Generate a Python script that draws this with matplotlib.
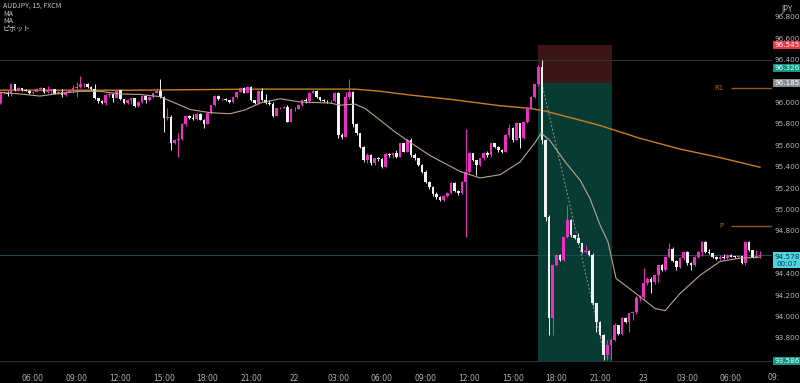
import matplotlib
matplotlib.use("Agg")
import matplotlib.pyplot as plt
from matplotlib.patches import Rectangle
import numpy as np

# AUDJPY 15 min bars, bar 0 = 21st 03:45
first_open = 96.00
closes = [96.09, 96.095, 96.08, 96.178, 96.118, 96.137, 96.121, 96.115, 96.09, 96.104,
          96.135, 96.14, 96.10, 96.108, 96.13, 96.085, 96.10, 96.075, 96.105, 96.12,
          96.137, 96.15, 96.175, 96.18, 96.146, 96.13, 96.044, 96.02, 96.00, 96.075,
          96.085, 96.05, 96.12, 96.035, 96.0, 96.03, 96.044, 95.972, 96.012, 96.065,
          96.028, 96.059, 96.096, 96.115, 96.06, 95.857, 95.87, 95.623, 95.654, 95.66,
          95.804, 95.879, 95.857, 95.85, 95.90, 95.845, 95.804, 95.903, 95.981, 96.065,
          96.034, 96.04, 96.028, 96.012, 96.059, 96.106, 96.137, 96.096, 96.153, 96.028,
          95.997, 96.115, 96.028, 95.997, 95.99, 95.879, 95.95, 95.958, 95.965, 95.826,
          95.94, 95.945, 95.981, 96.028, 96.02, 96.096, 96.115, 96.053, 96.028, 96.02,
          96.015, 96.02, 96.096, 95.70, 95.68, 96.06, 96.10, 95.80, 95.717, 95.592,
          95.467, 95.514, 95.436, 95.483, 95.475, 95.405, 95.523, 95.51, 95.53, 95.50,
          95.623, 95.545, 95.654, 95.514, 95.483, 95.421, 95.36, 95.265, 95.218, 95.15,
          95.12, 95.093, 95.13, 95.16, 95.249, 95.18, 95.16, 95.265, 95.36, 95.53,
          95.467, 95.421, 95.483, 95.53, 95.514, 95.623, 95.59, 95.56, 95.545, 95.70,
          95.77, 95.654, 95.81, 95.67, 95.826, 95.95, 96.06, 96.175, 96.34, 95.654,
          94.938, 93.988, 94.486, 94.58, 94.533, 94.75, 94.907, 94.766, 94.74, 94.69,
          94.611, 94.62, 94.58, 94.128, 93.956, 93.832, 93.645, 93.74, 93.785, 93.925,
          93.84, 93.988, 93.956, 94.035, 94.05, 94.174, 94.19, 94.315, 94.36, 94.33,
          94.39, 94.486, 94.44, 94.564, 94.64, 94.52, 94.47, 94.548, 94.61, 94.502,
          94.49, 94.56, 94.61, 94.70, 94.61, 94.60, 94.564, 94.54, 94.565, 94.55,
          94.58, 94.565, 94.563, 94.566, 94.502, 94.70, 94.626, 94.564, 94.57, 94.578]
highs = [96.10, 96.11, 96.11, 96.19, 96.18, 96.15, 96.14, 96.13, 96.12, 96.11,
         96.14, 96.15, 96.145, 96.16, 96.135, 96.135, 96.11, 96.135, 96.11, 96.125,
         96.17, 96.20, 96.25, 96.19, 96.19, 96.16, 96.18, 96.05, 96.03, 96.08,
         96.09, 96.09, 96.125, 96.125, 96.04, 96.035, 96.05, 96.05, 96.02, 96.07,
         96.075, 96.065, 96.10, 96.137, 96.224, 96.07, 95.95, 95.89, 95.66, 95.717,
         95.81, 95.885, 95.885, 95.897, 95.905, 95.905, 95.85, 95.91, 95.985, 96.075,
         96.075, 96.05, 96.045, 96.03, 96.065, 96.11, 96.14, 96.153, 96.16, 96.16,
         96.03, 96.12, 96.137, 96.08, 96.03, 96.012, 95.955, 95.965, 95.97, 95.98,
         95.95, 95.96, 95.99, 96.035, 96.045, 96.10, 96.12, 96.12, 96.06, 96.04,
         96.03, 96.03, 96.10, 96.10, 95.72, 96.10, 96.22, 96.11, 95.81, 95.72,
         95.60, 95.53, 95.52, 95.49, 95.492, 95.49, 95.53, 95.53, 95.54, 95.56,
         95.63, 95.63, 95.66, 95.67, 95.53, 95.49, 95.43, 95.37, 95.27, 95.22,
         95.17, 95.13, 95.14, 95.17, 95.26, 95.26, 95.19, 95.27, 95.757, 95.54,
         95.53, 95.47, 95.49, 95.54, 95.55, 95.63, 95.63, 95.60, 95.57, 95.71,
         95.80, 95.78, 95.82, 95.81, 95.83, 95.96, 96.07, 96.18, 96.36, 96.40,
         95.66, 94.95, 94.50, 94.59, 94.59, 94.76, 95.047, 94.92, 94.77, 94.79,
         94.69, 94.67, 94.63, 94.60, 94.13, 93.96, 93.84, 93.79, 93.80, 93.94,
         93.93, 94.00, 94.00, 94.04, 94.06, 94.20, 94.21, 94.455, 94.37, 94.37,
         94.40, 94.49, 94.50, 94.57, 94.69, 94.65, 94.53, 94.56, 94.62, 94.62,
         94.51, 94.57, 94.62, 94.71, 94.71, 94.64, 94.60, 94.57, 94.58, 94.59,
         94.59, 94.585, 94.57, 94.57, 94.575, 94.71, 94.71, 94.63, 94.625, 94.62]
lows = [95.99, 96.08, 96.07, 96.07, 96.11, 96.11, 96.115, 96.11, 96.085, 96.08,
        96.10, 96.13, 96.095, 96.09, 96.085, 96.08, 96.08, 96.06, 96.07, 96.10,
        96.09, 96.06, 96.14, 96.15, 96.14, 96.125, 96.035, 95.997, 95.995, 95.98,
        96.06, 96.01, 96.045, 96.03, 95.99, 95.99, 95.995, 95.965, 95.965, 96.0,
        95.997, 96.02, 96.05, 96.09, 96.05, 95.73, 95.84, 95.561, 95.62, 95.50,
        95.65, 95.79, 95.85, 95.84, 95.845, 95.84, 95.763, 95.80, 95.90, 95.975,
        96.03, 96.025, 96.02, 96.0, 96.0, 96.05, 96.10, 96.09, 96.09, 96.02,
        95.99, 95.99, 96.02, 95.99, 95.98, 95.87, 95.875, 95.94, 95.95, 95.82,
        95.82, 95.93, 95.94, 95.975, 96.0, 96.0, 96.09, 96.05, 96.02, 96.01,
        96.005, 96.005, 96.01, 95.67, 95.66, 95.68, 96.04, 95.78, 95.70, 95.58,
        95.45, 95.44, 95.42, 95.42, 95.46, 95.39, 95.40, 95.50, 95.49, 95.49,
        95.50, 95.54, 95.54, 95.50, 95.47, 95.41, 95.35, 95.25, 95.20, 95.13,
        95.10, 95.08, 95.08, 95.12, 95.15, 95.17, 95.14, 95.15, 94.75, 95.35,
        95.46, 95.327, 95.41, 95.47, 95.50, 95.50, 95.58, 95.54, 95.53, 95.54,
        95.68, 95.64, 95.65, 95.577, 95.66, 95.81, 95.94, 96.05, 96.16, 95.62,
        94.90, 93.832, 93.83, 94.48, 94.52, 94.52, 94.74, 94.75, 94.73, 94.68,
        94.60, 94.60, 94.57, 94.11, 93.863, 93.82, 93.598, 93.60, 93.60, 93.78,
        93.83, 93.83, 93.94, 93.86, 93.97, 94.03, 94.15, 94.16, 94.30, 94.22,
        94.31, 94.33, 94.43, 94.43, 94.55, 94.51, 94.44, 94.46, 94.53, 94.49,
        94.44, 94.48, 94.55, 94.57, 94.60, 94.59, 94.55, 94.53, 94.535, 94.54,
        94.545, 94.56, 94.555, 94.56, 94.495, 94.49, 94.62, 94.55, 94.55, 94.548]

# moving averages (bar index, price)
ma_long_bars = [0, 35.7, 71.5, 97.6, 104.5, 112.7, 123.7, 137.5, 145.7, 149.9,
                159.5, 165, 170.5, 176, 187, 198, 209]
ma_long_vals = [96.12, 96.12, 96.13, 96.13, 96.11, 96.075, 96.035, 95.975, 95.95, 95.925,
                95.84, 95.79, 95.73, 95.67, 95.57, 95.49, 95.40]
ma_short_bars = [0, 5.4, 10.9, 16.4, 21.9, 27.4, 32.9, 38.4, 43.9, 48.1,
                 52.2, 57.7, 63.2, 67.3, 71.5, 77, 82.5, 90.7, 93.5, 97.6,
                 100.3, 104.5, 108.6, 112.2, 118.2, 126.5, 132, 137.5, 143, 147.1,
                 148.8, 151.2, 155.4, 159.5, 162.2, 165, 167.2, 169.4, 171.0, 176,
                 180.1, 182.9, 187, 192.5, 198, 203.5, 209]
ma_short_vals = [96.10, 96.085, 96.065, 96.09, 96.11, 96.11, 96.085, 96.08, 96.06, 96.00,
                 95.94, 95.91, 95.90, 95.935, 96.00, 96.04, 96.01, 96.00, 95.98, 95.99,
                 95.95, 95.84, 95.73, 95.645, 95.51, 95.36, 95.30, 95.33, 95.45, 95.63,
                 95.72, 95.65, 95.45, 95.28, 95.11, 94.86, 94.70, 94.36, 94.32, 94.19,
                 94.08, 94.06, 94.22, 94.39, 94.52, 94.55, 94.56]

# short position tool
pos_start, pos_end = 148.0, 168.2
pos_stop, pos_entry, pos_target = 96.545, 96.185, 93.586
pos_path_bars = [149, 166.5]
pos_path_vals = [96.185, 93.60]

pivot_r1, pivot_p = 96.14, 94.85
pivot_from = 201
last_price = 94.578
hline_price = 96.40

time_ticks = [9 + 12 * k for k in range(17)]
time_labels = ["06:00", "09:00", "12:00", "15:00", "18:00", "21:00", "22",
               "03:00", "06:00", "09:00", "12:00", "15:00", "18:00", "21:00", "23",
               "03:00", "06:00"]
price_ticks = [96.8, 96.6, 96.4, 96.0, 95.8, 95.6, 95.4, 95.2, 95.0, 94.8,
               94.4, 94.2, 94.0, 93.8]

UP = "#ee2fc6"
DOWN = "#f2f2f2"
TXT = "#b2b5be"

fig = plt.figure(figsize=(8, 3.83), dpi=100, facecolor="black")
ax = fig.add_axes([0, 13 / 383, 772 / 800, 370 / 383], facecolor="black")
ax.set_xlim(-0.077, 212.3)
ax.set_ylim(93.505, 96.963)
for s in ax.spines.values():
    s.set_visible(False)

n = len(closes)
opens = [first_open] + closes[:-1]

# horizontal lines
ax.axhline(hline_price, color="#30333a", lw=0.8, zorder=1)
ax.axhline(last_price, color="#1f4a4f", lw=0.8, zorder=1)
ax.axhline(pos_target, color="#2c2f36", lw=0.8, zorder=1)

# position boxes
ax.add_patch(Rectangle((pos_start, pos_entry), pos_end - pos_start, pos_stop - pos_entry,
                       facecolor="#3c1517", edgecolor="none", zorder=0.5))
ax.add_patch(Rectangle((pos_start, pos_target), pos_end - pos_start, pos_entry - pos_target,
                       facecolor="#073b34", edgecolor="none", zorder=0.5))
ax.plot(pos_path_bars, pos_path_vals, color="#8c9c98", lw=0.7, dashes=(2, 2), zorder=2)

# moving averages
ax.plot(ma_long_bars, ma_long_vals, color="#c8801e", lw=1.0, zorder=2)
ax.plot(ma_short_bars, ma_short_vals, color="#b9a688", lw=0.8, zorder=4)

# candles
for i in range(n):
    o, c = opens[i], closes[i]
    col = UP if c >= o else DOWN
    lo = min(lows[i], o, c)
    hi = max(highs[i], o, c)
    ax.vlines(i, lo, hi, color=col, lw=0.7, zorder=3)
    body = max(abs(c - o), 0.005)
    ax.bar(i, body, bottom=min(o, c), width=0.72, color=col, linewidth=0, zorder=3)

# pivots
ax.hlines([pivot_r1, pivot_p], pivot_from, 212.3, color="#8f561f", lw=1.0, zorder=2)
ax.text(pivot_from - 2, pivot_r1, "R1", color="#a8692a", fontsize=5, ha="right", va="center")
ax.text(pivot_from - 2, pivot_p, "P", color="#a8692a", fontsize=5, ha="right", va="center")

# axes ticks
ax.set_xticks(time_ticks)
ax.set_xticklabels(time_labels)
ax.tick_params(axis="x", length=0, colors=TXT, labelsize=5.5, pad=3)
ax.set_yticks([])
fig.text(768 / 800, 6 / 383, "09:", color=TXT, fontsize=5.5, ha="left", va="center")

trans = ax.get_yaxis_transform()
lx = 1 + 15 / 772
for p in price_ticks:
    ax.text(lx, p, "%.3f" % p, transform=trans, color=TXT, fontsize=5.2,
            ha="center", va="center", clip_on=False)

badges = [(pos_stop, "96.545", "#f23645", "white"),
          (96.326, "96.326", "#0b9a84", "white"),
          (pos_entry, "96.185", "#8a8d96", "white"),
          (pos_target, "93.586", "#0b9a84", "white")]
for p, t, bg, fg in badges:
    ax.text(lx, p, t, transform=trans, color=fg, fontsize=5.2, ha="center", va="center",
            clip_on=False, bbox=dict(boxstyle="square,pad=0.15", fc=bg, ec="none"))
ax.text(lx, last_price - 0.045, "94.578\n00:07", transform=trans, color="#0d3d44",
        fontsize=5.2, ha="center", va="center", clip_on=False, linespacing=1.2,
        bbox=dict(boxstyle="square,pad=0.2", fc="#4fd3e4", ec="none"))

fig.text(787 / 800, 1 - 9 / 383, "JPY", color=TXT, fontsize=5.5, ha="center", va="center")

legend_lines = ["AUDJPY, 15, FXCM", "MA", "MA", "ピボット"]
for k, t in enumerate(legend_lines):
    fig.text(3 / 800, 1 - (6 + 7.5 * k) / 383, t, color="#c9cbd2", fontsize=5,
             ha="left", va="center", family=["Noto Sans CJK JP", "DejaVu Sans"])

fig.savefig("out.png", dpi=100, facecolor="black")
